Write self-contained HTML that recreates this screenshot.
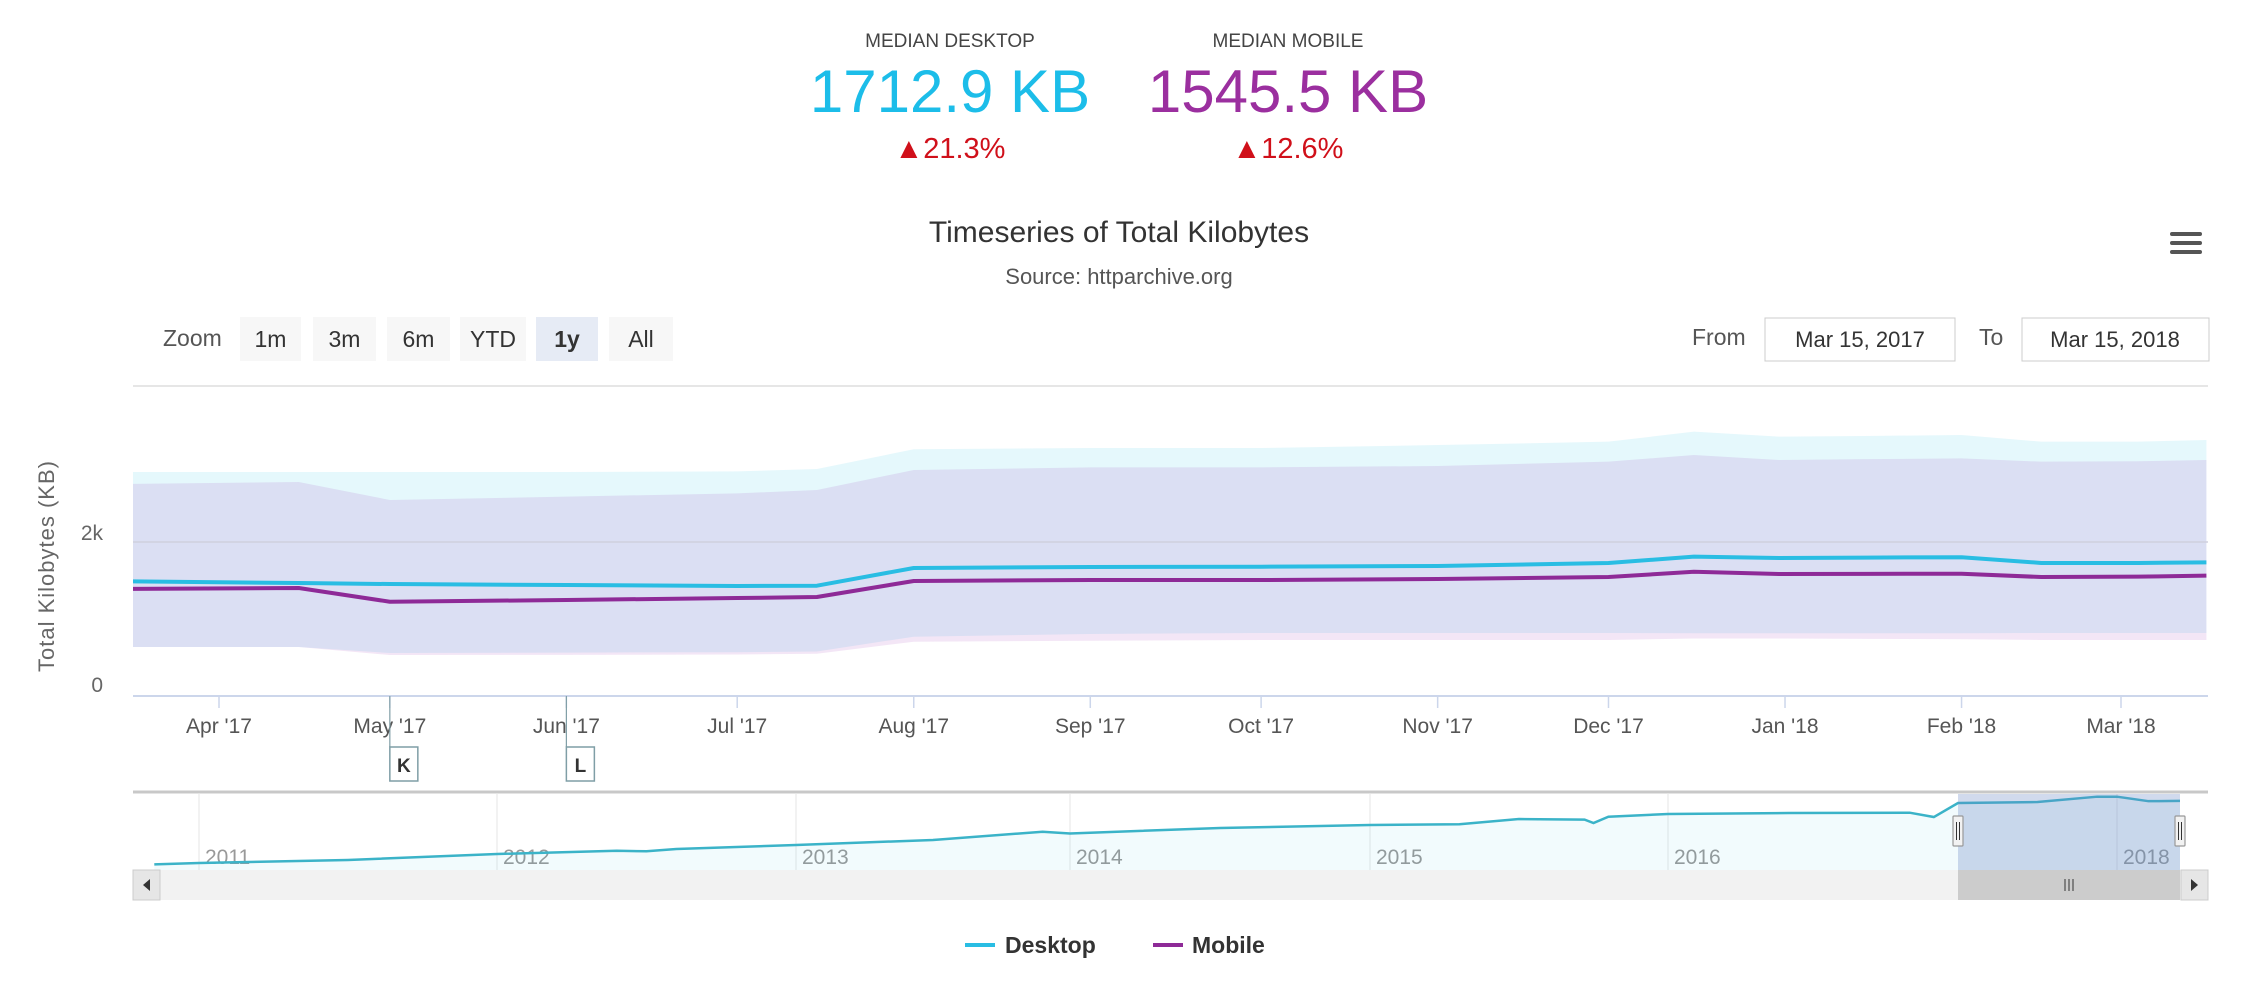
<!DOCTYPE html>
<html><head><meta charset="utf-8">
<style>
html,body{margin:0;padding:0;background:#fff;width:2249px;height:990px;overflow:hidden;font-family:"Liberation Sans",sans-serif;}
svg text{font-family:"Liberation Sans",sans-serif;}
</style></head>
<body>
<svg id="chart" width="2249" height="990" viewBox="0 0 2249 990" xmlns="http://www.w3.org/2000/svg">
  <defs><clipPath id="pc"><rect x="133" y="380" width="2075" height="320"/></clipPath></defs>
  <g>
    <text x="950" y="47" text-anchor="middle" font-size="19" fill="#444">MEDIAN DESKTOP</text>
    <text x="950" y="112" text-anchor="middle" font-size="60" fill="#1cbde9">1712.9 KB</text>
    <text x="950" y="158" text-anchor="middle" font-size="29" fill="#d0101a">▲21.3%</text>
  </g>
  <g>
    <text x="1288" y="47" text-anchor="middle" font-size="19" fill="#444">MEDIAN MOBILE</text>
    <text x="1288" y="112" text-anchor="middle" font-size="60" fill="#9b2f9f">1545.5 KB</text>
    <text x="1288" y="158" text-anchor="middle" font-size="29" fill="#d0101a">▲12.6%</text>
  </g>
  <text x="1119" y="242" text-anchor="middle" font-size="30" fill="#333">Timeseries of Total Kilobytes</text>
  <text x="1119" y="284" text-anchor="middle" font-size="22" fill="#555">Source: httparchive.org</text>
  <g>
    <rect x="2168" y="228" width="36" height="30" fill="#fff"/>
    <rect x="2170" y="232" width="32" height="4" rx="2" fill="#555"/>
    <rect x="2170" y="241" width="32" height="4" rx="2" fill="#555"/>
    <rect x="2170" y="250" width="32" height="4" rx="2" fill="#555"/>
  </g>
  <text x="163" y="346" font-size="23" fill="#555">Zoom</text>
  <g id="zoomButtons"></g>
  <text x="1692" y="345" font-size="23" fill="#555">From</text>
  <g>
    <rect x="1765" y="318" width="190" height="43" fill="#fff" stroke="#ccc"/>
    <text x="1860" y="347" text-anchor="middle" font-size="22" fill="#333">Mar 15, 2017</text>
  </g>
  <text x="1979" y="345" font-size="23" fill="#555">To</text>
  <g>
    <rect x="2022" y="318" width="187" height="43" fill="#fff" stroke="#ccc"/>
    <text x="2115" y="347" text-anchor="middle" font-size="22" fill="#333">Mar 15, 2018</text>
  </g>
  <line x1="133" y1="386" x2="2208" y2="386" stroke="#e6e6e6" stroke-width="2"/>
  <text transform="translate(54,566) rotate(-90)" text-anchor="middle" font-size="22" fill="#666" letter-spacing="1">Total Kilobytes (KB)</text>
  <g id="plot"></g>
  <g id="nav"></g>
  <g>
    <g>
      <line x1="965" y1="945" x2="995" y2="945" stroke="#29bde3" stroke-width="4"/>
      <text x="1005" y="953" font-size="23" font-weight="bold" fill="#333">Desktop</text>
    </g>
    <g>
      <line x1="1153" y1="945" x2="1183" y2="945" stroke="#8e2a97" stroke-width="4"/>
      <text x="1192" y="953" font-size="23" font-weight="bold" fill="#333">Mobile</text>
    </g>
  </g>
</svg>
<script>
// ---- main chart data (day offsets from Apr 1 2017) ----
const dates = [-17, 14, 30, 61, 91, 105, 122, 153, 183, 214, 244, 259, 274, 289, 306, 320, 337, 349];
const desktopMedian = [1483,1460,1447,1434,1421,1425,1658,1671,1675,1684,1724,1807,1789,1795,1800,1724,1724,1732];
const mobileMedian  = [1382,1395,1214,1237,1263,1276,1487,1500,1500,1513,1539,1609,1579,1581,1583,1539,1544,1557];
const desktopHigh   = [2921,2921,2921,2921,2930,2960,3221,3237,3237,3276,3320,3452,3386,3395,3408,3320,3320,3342];
const desktopLow    = [618,618,539,545,550,560,754,790,803,803,803,800,800,800,800,803,803,803];
const mobileHigh    = [2763,2789,2553,2597,2640,2684,2947,2982,2982,3000,3057,3145,3079,3090,3100,3057,3062,3079];
const mobileLow     = [618,618,513,515,520,530,688,700,711,711,711,730,730,725,720,711,711,711];
const monthLabels = ["Apr '17","May '17","Jun '17","Jul '17","Aug '17","Sep '17","Oct '17","Nov '17","Dec '17","Jan '18","Feb '18","Mar '18"];
const monthDays = [0,30,61,91,122,153,183,214,244,275,306,334];
const yTicks = [0,2000];
const yTickLabels = ["0","2k"];
const flagLabels = ["K","L"];
const flagDays = [30,61];
// ---- navigator data (fractional years) ----
const navYears  = [2010.85,2011.0,2011.5,2012.0,2012.4,2012.5,2012.6,2013.0,2013.5,2013.9,2014.0,2014.5,2015.0,2015.3,2015.5,2015.72,2015.75,2015.8,2016.0,2016.5,2017.0,2017.1,2017.2,2017.6,2017.9,2018.0,2018.1,2018.2];
const navDesktop= [664,687,739,843,900,890,930,1000,1086,1230,1200,1294,1346,1360,1450,1440,1380,1490,1537,1555,1560,1485,1728,1745,1838,1838,1760,1765];
const navYearLabels = ["2011","2012","2013","2014","2015","2016","2018"];
const navYearValues = [2011,2012,2013,2014,2015,2016,2018];
const zoomLabels = ["1m","3m","6m","YTD","1y","All"];

const NS="http://www.w3.org/2000/svg";
function mk(tag,attrs,parent){const e=document.createElementNS(NS,tag);for(const k in attrs)e.setAttribute(k,attrs[k]);parent.appendChild(e);return e;}
const X0=219, PXD=(2121-219)/334;
function xs(d){return X0+d*PXD;}
function ys(v){return 694-v*0.076;}
const plot=document.getElementById('plot');

// zoom buttons
const zb=document.getElementById('zoomButtons');
const bx=[240,313,387,460,536,609], bw=[61,63,63,66,62,64];
zoomLabels.forEach((l,i)=>{
  const g=mk('g',{},zb);
  
  
  mk('rect',{x:bx[i],y:317,width:bw[i],height:44,fill:i===4?'#e6ebf5':'#f7f7f7'},g);
  const t=mk('text',{x:bx[i]+bw[i]/2,y:347,'text-anchor':'middle','font-size':23,fill:'#333','font-weight':i===4?'bold':'normal'},g);
  t.textContent=l;
});

const series=mk('g',{'clip-path':'url(#pc)'},plot);
function area(hi,lo,fill,name){
  let d='M'+dates.map((dd,i)=>xs(dd)+','+ys(hi[i])).join('L');
  for(let i=dates.length-1;i>=0;i--) d+='L'+xs(dates[i])+','+ys(lo[i]);
  const p=mk('path',{d:d+'Z',fill:fill,stroke:'none'},series);
  
  
}
function line(vals,color,name){
  const d='M'+dates.map((dd,i)=>xs(dd)+','+ys(vals[i])).join('L');
  const p=mk('path',{d:d,fill:'none',stroke:color,'stroke-width':4,'stroke-linejoin':'round'},series);
  
  
}
area(desktopHigh,desktopLow,'rgba(0,184,230,0.10)','desktop-range-band');
area(mobileHigh,mobileLow,'rgba(135,5,165,0.10)','mobile-range-band');
// grid
yTicks.forEach((v,i)=>{
  if(v>0){const gl=mk('line',{x1:133,x2:2208,y1:ys(v),y2:ys(v),stroke:'#d0d0de','stroke-width':1.5},series);
  
  }
  const t=mk('text',{x:103,y:ys(v)-2,'text-anchor':'end','font-size':21,fill:'#666'},plot);
  
  
  t.textContent=yTickLabels[i];
});
line(desktopMedian,'#29bde3','desktop-line');
line(mobileMedian,'#8e2a97','mobile-line');
// x axis
const ax=mk('line',{x1:133,x2:2208,y1:696,y2:696,stroke:'#ccd6eb','stroke-width':2},plot);


monthLabels.forEach((l,i)=>{
  const x=xs(monthDays[i]);
  mk('line',{x1:x,x2:x,y1:696,y2:708,stroke:'#ccd6eb','stroke-width':1.5},plot);
  const t=mk('text',{x:x,y:733,'text-anchor':'middle','font-size':21,fill:'#555'},plot);
  
  
  t.textContent=l;
});
flagLabels.forEach((l,i)=>{
  const x=xs(flagDays[i]);
  const g=mk('g',{},plot);
  
  
  mk('line',{x1:x,x2:x,y1:696,y2:747,stroke:'#7f9ea6','stroke-width':1.2},g);
  mk('rect',{x:x,y:747,width:28,height:34,fill:'#fff',stroke:'#7f9ea6','stroke-width':1.5},g);
  const t=mk('text',{x:x+14,y:772,'text-anchor':'middle','font-size':19,'font-weight':'bold',fill:'#333'},g);
  t.textContent=l;
});

// navigator
const nav=document.getElementById('nav');
const aYears=[2011,2012,2013,2014,2015,2016,2017.2,2018,2018.2];
const aPx=[199,497,796,1070,1370,1668,1958,2117,2180];
function nx(y){
  if(y<=aYears[0]) return aPx[0]+(y-aYears[0])*298;
  for(let i=1;i<aYears.length;i++){ if(y<=aYears[i]) return aPx[i-1]+(y-aYears[i-1])/(aYears[i]-aYears[i-1])*(aPx[i]-aPx[i-1]); }
  return aPx[aPx.length-1];
}
function ny(v){return 868-(v-600)/1250*72;}
const nb=mk('rect',{x:133,y:792,width:2075,height:78,fill:'#fff'},nav);


mk('line',{x1:133,x2:2208,y1:792,y2:792,stroke:'#c8c8c8','stroke-width':3},nav);
navYearValues.forEach((y,i)=>{
  const x=nx(y);
  mk('line',{x1:x,x2:x,y1:793,y2:870,stroke:'#e6e6e6','stroke-width':1},nav);
  const t=mk('text',{x:x+6,y:864,'font-size':21,fill:'#999'},nav);
  
  
  t.textContent=navYearLabels[i];
});
let nd='M'+navYears.map((y,i)=>nx(y)+','+ny(navDesktop[i])).join('L');
const nfa=mk('path',{d:nd+'L'+nx(navYears[navYears.length-1])+',870L'+nx(navYears[0])+',870Z',fill:'rgba(41,189,227,0.06)'},nav);


const nl=mk('path',{d:nd,fill:'none',stroke:'#3bb3c8','stroke-width':2.5},nav);


const sel=mk('rect',{x:1958,y:794,width:222,height:76,fill:'rgba(102,133,194,0.3)'},nav);


[1958,2180].forEach((x,i)=>{
  const h=mk('g',{},nav);
  
  
  mk('rect',{x:x-5,y:816,width:10,height:30,rx:1,fill:'#f2f2f2',stroke:'#999','stroke-width':1.2},h);
  mk('line',{x1:x-1.5,x2:x-1.5,y1:822,y2:840,stroke:'#333'},h);
  mk('line',{x1:x+1.5,x2:x+1.5,y1:822,y2:840,stroke:'#333'},h);
});
const sb=mk('g',{},nav);


mk('rect',{x:133,y:870,width:2075,height:30,fill:'#f2f2f2'},sb);
mk('rect',{x:133,y:870,width:27,height:30,fill:'#e6e6e6',stroke:'#ccc'},sb);
mk('path',{d:'M150,879L143,885L150,891Z',fill:'#333'},sb);
mk('rect',{x:2181,y:870,width:27,height:30,fill:'#e6e6e6',stroke:'#ccc'},sb);
mk('path',{d:'M2191,879L2198,885L2191,891Z',fill:'#333'},sb);
const th=mk('rect',{x:1958,y:870,width:222,height:30,fill:'#cccccc'},sb);


[-4,0,4].forEach(o=>mk('line',{x1:2069+o,x2:2069+o,y1:879,y2:891,stroke:'#333'},sb));
</script>
</body></html>
